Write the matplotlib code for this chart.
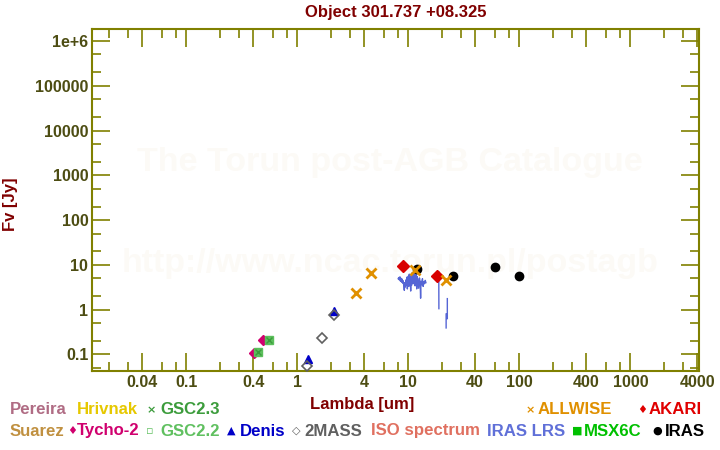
import matplotlib
matplotlib.use('Agg')
import matplotlib.pyplot as plt
from matplotlib.ticker import FixedLocator, FixedFormatter, NullFormatter
import numpy as np

plt.rcParams['font.family'] = ['Liberation Sans', 'DejaVu Sans']
plt.rcParams['font.weight'] = 'bold'

# photometry: wavelength [um], flux [Jy]
tycho_wave = [0.407, 0.488]
tycho_flux = [0.105, 0.211]
gsc22_wave = [0.445, 0.553]
gsc22_flux = [0.112, 0.215]
gsc23_wave = [0.445, 0.553]
gsc23_flux = [0.112, 0.215]
denis_wave = [1.24, 2.15]
denis_flux = [0.078, 0.93]
mass2_wave = [1.23, 1.68, 2.15]
mass2_flux = [0.056, 0.227, 0.746]
allwise_wave = [3.35, 4.6, 11.6, 22.0]
allwise_flux = [2.4, 6.6, 7.7, 4.6]
akari_wave = [9.0, 18.0]
akari_flux = [9.5, 5.5]
iras_wave = [12.0, 25.0, 60.0, 100.0]
iras_flux = [7.9, 5.7, 9.0, 5.7]

# IRAS LRS spectrum (nan = gap)
lrs_wave = [8.1, 8.2, 8.3, 8.4, 8.5, 8.6, 8.7, 8.8, 8.9, 9.0, 9.1, 9.2, 9.3, 9.4,
            9.5, 9.6, 9.7, 9.8, 9.9, 10.0, 10.1, 10.2, 10.3, 10.4, 10.5, 10.6, 10.7,
            10.8, 10.9, 11.0, 11.1, 11.2, 11.3, 11.4, 11.5, 11.6, 11.7, 11.8, 11.9,
            12.0, 12.2, 12.4, 12.6, 12.8, 12.9, 13.0, 13.2, 13.4, 13.6, 13.8, 14.0,
            14.2, 14.4, np.nan, 18.8, 18.85, np.nan, 22.45, 22.45, np.nan, 21.9, 21.9]
lrs_flux = [4.9, 5.2, 4.6, 5.4, 4.3, 5.0, 4.1, 4.8, 3.9, 4.4, 3.4, 2.7, 4.0, 3.2,
            4.6, 3.6, 5.3, 2.9, 4.4, 5.6, 3.3, 6.2, 4.0, 5.4, 2.6, 5.8, 3.5,
            6.6, 4.2, 5.9, 3.8, 6.9, 4.5, 6.3, 3.4, 5.7, 4.1, 6.1, 2.9,
            5.5, 4.6, 3.0, 5.1, 3.6, 1.8, 4.3, 3.6, 4.9, 3.3, 4.2, 3.8,
            4.5, 4.0, np.nan, 7.0, 1.05, np.nan, 1.76, 0.63, np.nan, 0.8, 0.39]

x_major = [0.04, 0.1, 0.4, 1, 4, 10, 40, 100, 400, 1000, 4000]
x_major_labels = ['0.04', '0.1', '0.4', '1', '4', '10', '40', '100', '400', '1000', '4000']
x_minor = [0.02, 0.03, 0.06, 0.08, 0.2, 0.3, 0.6, 0.8, 2, 3, 6, 8, 20, 30, 60, 80,
           200, 300, 600, 800, 2000, 3000]
y_major = [0.1, 1, 10, 100, 1000, 1e4, 1e5, 1e6]
y_major_labels = ['0.1', '1', '10', '100', '1000', '10000', '100000', '1e+6']
y_minor = [0.05, 0.2, 0.5, 2, 5, 20, 50, 200, 500, 2000, 5000, 2e4, 5e4, 2e5, 5e5]

olive = '#808000'
dark = '#800000'

fig = plt.figure(figsize=(7.2, 4.5), dpi=100)
ax = fig.add_axes([92.5/720, 1-371/450, (699-92.5)/720, (371-29.3)/450])

# watermark
ax.text(0.49, 0.61, 'The Torun post-AGB Catalogue', transform=ax.transAxes,
        ha='center', va='center', fontsize=24.5, color='#fcfaf6', zorder=0)
ax.text(0.49, 0.315, 'http://www.ncac.torun.pl/postagb', transform=ax.transAxes,
        ha='center', va='center', fontsize=24.5, color='#fcfaf6', zorder=0)

ax.plot(lrs_wave, lrs_flux, color='#5565d5', lw=1, zorder=2)
ax.plot(tycho_wave, tycho_flux, 'D', color='#d0006e', ms=5.5, zorder=3)
ax.plot(gsc22_wave, gsc22_flux, 's', color='#5cbf5c', ms=6, zorder=3)
ax.plot(gsc23_wave, gsc23_flux, 'x', color='#3c9c3c', ms=4, mew=1, zorder=4)
ax.plot(denis_wave, denis_flux, '^', color='#0000c8', ms=6, zorder=3)
ax.plot(mass2_wave, mass2_flux, 'D', mfc='none', mec='#606060', ms=5.5, mew=1.2, zorder=4)
ax.plot(iras_wave, iras_flux, 'o', color='black', ms=6, zorder=3)
ax.plot(akari_wave, akari_flux, 'D', color='#d80000', ms=6.5, zorder=3)
ax.plot(allwise_wave, allwise_flux, 'x', color='#e09000', ms=6.5, mew=2, zorder=4)

ax.set_xscale('log')
ax.set_yscale('log')
ax.set_xlim(0.0143, 4150)
ax.set_ylim(0.0426, 1.82e6)

ax.xaxis.set_major_locator(FixedLocator(x_major))
ax.xaxis.set_major_formatter(FixedFormatter(x_major_labels))
ax.xaxis.set_minor_locator(FixedLocator(x_minor))
ax.xaxis.set_minor_formatter(NullFormatter())
ax.yaxis.set_major_locator(FixedLocator(y_major))
ax.yaxis.set_major_formatter(FixedFormatter(y_major_labels))
ax.yaxis.set_minor_locator(FixedLocator(y_minor))
ax.yaxis.set_minor_formatter(NullFormatter())

ax.tick_params(which='both', direction='in', top=True, right=True, color=olive,
               width=1.2, labelsize=11.5, labelcolor='#4d4d13')
ax.tick_params(which='major', length=13, pad=3)
ax.tick_params(which='minor', length=6.5)
for s in ax.spines.values():
    s.set_color(olive)
    s.set_linewidth(1.5)

fig.text(396/720, 1-12/450, 'Object 301.737 +08.325', ha='center', va='center',
         fontsize=12, color=dark)
fig.text(11/720, 1-204/450, 'Fv [Jy]', ha='center', va='center', rotation=90,
         fontsize=12, color=dark)
fig.text(362/720, 1-404/450, 'Lambda [um]', ha='center', va='center',
         fontsize=12, color=dark)

# legend: (glyph, label, colour, glyph x px, text x px, row y px)
legend = [
    ('', 'Pereira', '#b06c84', 0, 10, 410),
    ('', 'Hrivnak', '#e6c800', 0, 77, 410),
    ('\u00d7', 'GSC2.3', '#3c9c3c', 147, 160, 410),
    ('\u00d7', 'ALLWISE', '#e09000', 526, 538, 410),
    ('\u2666', 'AKARI', '#e00000', 637, 649, 410),
    ('', 'Suarez', '#c09040', 0, 10, 431),
    ('\u2666', 'Tycho-2', '#d0006e', 67, 77, 431),
    ('\u25ab', 'GSC2.2', '#60c060', 146, 160, 431),
    ('\u25b2', 'Denis', '#0000c8', 227, 240, 431),
    ('\u25c7', '2MASS', '#606060', 292, 304, 431),
    ('', 'ISO spectrum', '#e07060', 0, 371, 431),
    ('', 'IRAS LRS', '#6070d8', 0, 487, 431),
    ('\u25a0', 'MSX6C', '#00c000', 572, 584, 431),
    ('\u25cf', 'IRAS', '#000000', 652, 665, 431),
]
for glyph, label, col, gx, tx, yp in legend:
    if glyph:
        fig.text(gx/720, 1-yp/450, glyph, ha='left', va='center', fontsize=8,
                 color=col, family=['DejaVu Sans'])
    fig.text(tx/720, 1-yp/450, label, ha='left', va='center', fontsize=12.1, color=col)

fig.savefig('out.png', dpi=100)
